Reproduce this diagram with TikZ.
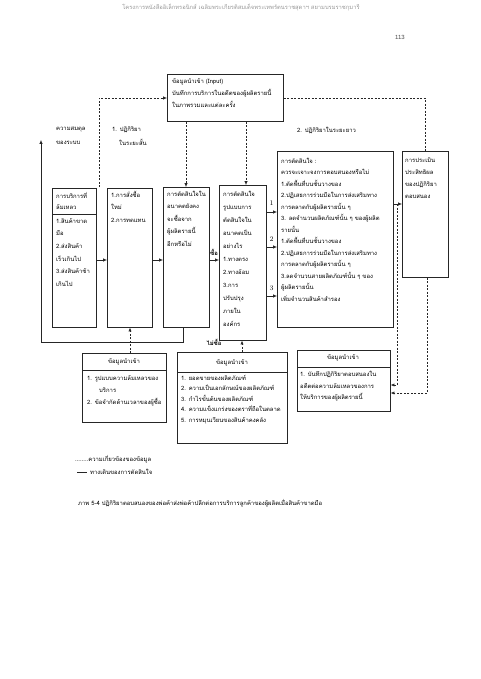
\documentclass[tikz,border=0pt]{standalone}
\usepackage{fontspec}
\newfontfamily\thai[Script=Thai]{Loma}
\newfontfamily\latinsans{Liberation Sans}
\usetikzlibrary{arrows.meta,calc}
\begin{document}
\begin{tikzpicture}[x=1pt,y=-1pt,
  box/.style={draw=black!85, line width=0.6pt, rectangle, inner sep=0pt, anchor=north west},
  txt/.style={font=\thai\fontsize{5.9}{#1}\selectfont, align=left, anchor=north west, inner sep=0pt, text=black},
  txt/.default=11.5,
  hdr/.style={font=\thai\fontsize{5.9}{7}\selectfont, inner sep=0pt, text=black},
  flow/.style={line width=0.6pt, draw=black!85, -{Latex[length=3.8pt,width=3.2pt]}},
  flowline/.style={line width=0.6pt, draw=black!85},
  info/.style={line width=0.6pt, draw=black!85, dash pattern=on 2pt off 1.5pt},
  infoarrow/.style={info, -{Latex[length=3.8pt,width=3.2pt]}},
  num/.style={font=\fontsize{7}{8}\selectfont, inner sep=0pt}
]
\useasboundingbox (0,0) rectangle (480,679);
\fill[white] (0,0) rectangle (480,679);

% page header
\node[font=\thai\fontsize{5.8}{7}\selectfont, text=black!40, inner sep=0pt] (head) at (241,8) {โครงการหนังสืออิเล็กทรอนิกส์ เฉลิมพระเกียรติสมเด็จพระเทพรัตนราชสุดาฯ สยามบรมราชกุมารี};
\node[font=\latinsans\fontsize{6}{7}\selectfont, text=black!70, inner sep=0pt] (page) at (400,37) {113};

% top input box
\node[box, minimum width=116pt, minimum height=47pt] (top) at (167,74) {};
\node[txt=12] (ttop) at (172,78) {ข้อมูลนำเข้า (Input)\\บันทึกการบริการในอดีตของผู้ผลิตรายนี้\\ในภาพรวมและแต่ละครั้ง};

% labels
\node[txt=14] (lbal) at (56,127) {ความสมดุล\\ของระบบ};
\node[txt=14] (lshort) at (112,127) {1. ปฏิกิริยา\\\hspace{7pt}ในระยะสั้น};
\node[txt] (llong) at (297,127) {2. ปฏิกิริยาในระยะยาว};

% main boxes
\node[box, minimum width=44pt, minimum height=139pt] (b1) at (52,188) {};
\draw[flowline] (b1.west |- 0,214) -- (b1.east |- 0,214);
\node[txt=11.5] (t1a) at (56,192) {การบริการที่\\ล้มเหลว};
\node[txt=12.7] (t1b) at (56,218) {1.สินค้าขาด\\มือ\\2.ส่งสินค้า\\เร็วเกินไป\\3.ส่งสินค้าช้า\\เกินไป};

\node[box, minimum width=45pt, minimum height=139pt] (b2) at (107,188) {};
\node[txt=12.5] (t2) at (111,191) {1.การสั่งซื้อ\\ใหม่\\2.การทดแทน};

\node[box, minimum width=46pt, minimum height=140pt] (b3) at (163,187) {};
\node[txt=12.5] (t3) at (167,191) {การตัดสินใจใน\\อนาคตยังคง\\จะซื้อจาก\\ผู้ผลิตรายนี้\\อีกหรือไม่};

\node[box, minimum width=47pt, minimum height=155pt] (b4) at (219,185) {};
\node[txt=13] (t4) at (223,191) {การตัดสินใจ\\รูปแบบการ\\ตัดสินใจใน\\อนาคตเป็น\\อย่างไร\\1.ทางตรง\\2.ทางอ้อม\\3.การ\\ปรับปรุง\\ภายใน\\องค์กร};

\node[box, minimum width=116pt, minimum height=176pt] (b5) at (277,151) {};
\node[txt=11.5] (t5) at (281,158) {การตัดสินใจ :\\ควรจะเจาะจงการตอบสนองหรือไม่\\1.ตัดพื้นที่บนชั้นวางของ\\2.ปฏิเสธการร่วมมือในการส่งเสริมทาง\\การตลาดกับผู้ผลิตรายนั้น ๆ\\3. ลดจำนวนผลิตภัณฑ์นั้น ๆ ของผู้ผลิต\\รายนั้น\\1.ตัดพื้นที่บนชั้นวางของ\\2.ปฏิเสธการร่วมมือในการส่งเสริมทาง\\การตลาดกับผู้ผลิตรายนั้น ๆ\\3.ลดจำนวนสายผลิตภัณฑ์นั้น ๆ ของ\\ผู้ผลิตรายนั้น\\เพิ่มจำนวนสินค้าสำรอง};

\node[box, minimum width=46pt, minimum height=126pt] (b6) at (402,151) {};
\node[txt=11.7] (t6) at (405,158) {การประเมิน\\ประสิทธิผล\\ของปฏิกิริยา\\ตอบสนอง};

% bottom input boxes
\node[box, minimum width=84pt, minimum height=69pt] (in1) at (82,353) {};
\draw[flowline] (in1.west |- 0,370) -- (in1.east |- 0,370);
\node[hdr] (h1) at (124,362) {ข้อมูลนำเข้า};
\node[txt=12] (ti1) at (87,375) {1. รูปแบบความล้มเหลวของ\\\hspace{12pt}บริการ\\2. ข้อจำกัดด้านเวลาของผู้ซื้อ};

\node[box, minimum width=110pt, minimum height=91pt] (in2) at (177,352) {};
\draw[flowline] (in2.west |- 0,372) -- (in2.east |- 0,372);
\node[hdr] (h2) at (232,363) {ข้อมูลนำเข้า};
\node[txt=10.5] (ti2) at (181,375) {1. ยอดขายของผลิตภัณฑ์\\2. ความเป็นเอกลักษณ์ของผลิตภัณฑ์\\3. กำไรขั้นต้นของผลิตภัณฑ์\\4. ความแข็งแกร่งของตราที่ถือในตลาด\\5. การหมุนเวียนของสินค้าคงคลัง};

\node[box, minimum width=93pt, minimum height=61pt] (in3) at (297,350) {};
\draw[flowline] (in3.west |- 0,367) -- (in3.east |- 0,367);
\node[hdr] (h3) at (343,358) {ข้อมูลนำเข้า};
\node[txt=11.5] (ti3) at (300,371) {1. บันทึกปฏิกิริยาตอบสนองใน\\อดีตต่อความล้มเหลวของการ\\ให้บริการของผู้ผลิตรายนี้};

% coordinates
\coordinate (ydash) at (0,98);
\coordinate (yrow) at (0,260);
\coordinate (c99) at (99,187);
\coordinate (c99t) at (99,98);
\coordinate (cright) at (425,98);
\coordinate (cno) at (183,342);
\coordinate (cleft) at (41,342);
\coordinate (cup) at (41,140);
\coordinate (tap) at (397,204);
\coordinate (tapd) at (397,385);
\coordinate (b6d) at (427,393);

% information (dashed) connectors
\draw[infoarrow] (c99) -- (c99t) -- (top.west |- ydash);
\draw[infoarrow] (top.south -| 186,0) -- (b3.north -| 186,0);
\draw[infoarrow] (top.south -| 246,0) -- (b4.north -| 246,0);
\draw[info] (top.east |- ydash) -- (cright) -- (b6.north -| cright);
\draw[infoarrow] (in1.north -| 130,0) -- (b2.south -| 130,0);
\draw[infoarrow] (in2.north -| 242,0) -- (b4.south -| 242,0);
\draw[infoarrow] (tap) -- (tapd) -- (in3.east |- tapd);
\draw[infoarrow] (b6.south -| b6d) -- (b6d) -- (in3.east |- b6d);

% decision flow
\draw[flow] (b1.east |- yrow) -- (b2.west |- yrow);
\draw[flow] (b2.east |- yrow) -- (b3.west |- yrow);
\draw[flow] (b3.east |- yrow) -- (b4.west |- yrow);
\node[font=\thai\fontsize{5.9}{7}\selectfont\bfseries, inner sep=0pt] (lbuy) at (214,252) {ซื้อ};
\draw[flow] (b4.east |- 0,212) -- (b5.west |- 0,212);
\draw[flow] (b4.east |- 0,247) -- (b5.west |- 0,247);
\draw[flow] (b4.east |- 0,296) -- (b5.west |- 0,296);
\node[num] (n1) at (271.5,203) {1};
\node[num] (n2) at (271.5,239) {2};
\node[num] (n3) at (271.5,288) {3};
\draw[flow] (b5.east |- tap) -- (b6.west |- tap);
\draw[flow] (b3.south -| cno) -- (cno) -- (cleft) -- (cup);
\node[font=\thai\fontsize{5.9}{7}\selectfont\bfseries, inner sep=0pt] (lnobuy) at (214,342) {ไม่ซื้อ};

% legend
\node[txt, anchor=west] (leg1) at (75,459) {........ความเกี่ยวข้องของข้อมูล};
\coordinate (lg1) at (77,472);
\coordinate (lg2) at (87,472);
\draw[flowline] (lg1) -- (lg2);
\node[txt, anchor=west] (leg2) at (90,472) {ทางเดินของการตัดสินใจ};

% caption
\node[txt, anchor=west] (cap) at (78,503) {ภาพ 5-4 ปฏิกิริยาตอบสนองของพ่อค้าส่งพ่อค้าปลีกต่อการบริการลูกค้าของผู้ผลิตเมื่อสินค้าขาดมือ};
\end{tikzpicture}
\end{document}
